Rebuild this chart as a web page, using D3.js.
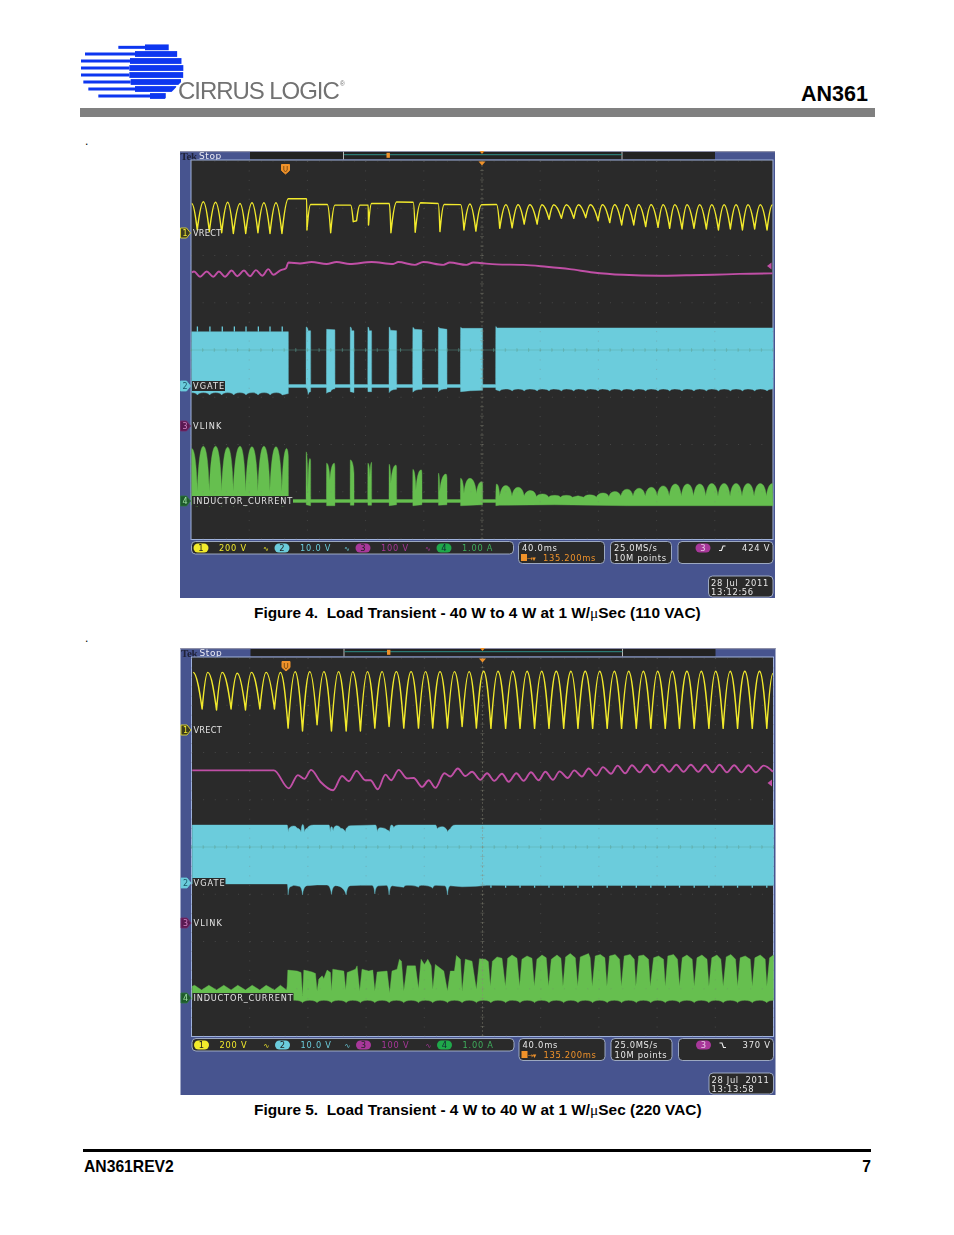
<!DOCTYPE html>
<html><head><meta charset="utf-8">
<script src="https://cdn.jsdelivr.net/npm/d3@7"></script>
<style>html,body{margin:0;padding:0;background:#fff}svg{display:block}</style>
</head><body><svg id="page" width="954" height="1235" xmlns="http://www.w3.org/2000/svg"></svg>
<script>
// ---- Readings: [time in ms across the 400 ms screen, level in channel units] ----
const yellow4 = [[.5,125],[4.3,13],[8.5,132],[12.6,6],[16.9,130],[21.1,1],[25.2,130],[29.1,-2],[33.7,125],[37.6,-2],[41.9,128],[46,1],[50.1,128],[54.3,-2],[58.4,128],[62.5,-2],[66.9,145],[79.5,145],[79.7,13],[82.2,121],[93.7,121],[96,1],[98.9,118],[109.7,118],[111.5,48],[113.8,52],[116.1,118],[121.8,118],[122,34],[124.1,125],[136.3,125],[137.4,1],[141.3,131],[152.7,130],[154.1,3],[157.8,128],[169.9,125],[171.1,6],[174,121],[185.3,120],[187.6,13],[191.7,123],[195.8,8],[199.7,120],[210,121],[212.2,20],[216.4,120],[220.7,22],[224.8,120],[229,38],[232.9,120],[237.9,38],[241.3,120],[246.1,58],[249.3,120],[254.6,62],[258,120],[263.1,62],[266.3,120],[271.3,65],[274.5,120],[279.8,52],[282.8,120],[287.8,44],[291.2,120],[296,34],[299.5,120],[304.3,34],[307.7,120],[312.5,27],[316.2,120],[321,24],[324.5,120],[329,20],[332.5,120],[337.5,17],[340.9,120],[345.7,20],[349.6,120],[354.2,17],[357.9,120],[362.5,13],[366.4,120],[370.7,17],[374.6,120],[379,13],[382.8,120],[387.4,17],[391.3,120],[395.9,13],[399.6,120]];
const magenta4 = [[.5,325],[2.1,327],[6.2,316],[10.8,327],[15.3,316],[19.2,327],[23.4,316],[27.9,329],[31.8,317],[36.4,329],[40.5,317],[44.6,330],[49,318],[53.1,332],[56.6,320],[61.1,329],[65.3,334],[66.9,346],[74.9,344],[82.9,347],[93.2,343],[100.1,347],[109.2,343],[124.1,347],[139,343],[142.4,347],[153.9,341],[159.6,347],[173.4,341],[177.9,346],[189.4,341],[194,346],[198.5,345],[210,342],[228.3,341],[244.3,337],[260.3,332],[276.4,325],[297,320],[322.2,318],[340.5,319],[358.8,320],[377.1,322],[399.6,323]];
const cyan4Top = [[.5,11.5],[66.9,11.5],[67,.3],[79.1,.3],[79.2,12.5],[80.5,11.7],[82.2,11.7],[82.3,.3],[93.1,.3],[93.2,12],[98.9,11.9],[99,.3],[109.4,.3],[109.5,12.5],[110.5,11.7],[112,11.7],[112.1,.3],[121.5,.3],[121.6,12.5],[122.5,11.7],[124.1,11.7],[124.2,.3],[136.1,.3],[136.2,12.5],[137,11.8],[141.3,11.7],[141.4,.3],[152.4,.3],[152.5,12.4],[153.5,12],[158.7,11.9],[158.8,.3],[170,.3],[170.1,12.5],[171,12.2],[175.9,12],[176,.3],[185.2,.3],[185.3,12.4],[186.5,12.2],[200.4,12.2],[200.5,.3],[209.4,.3],[209.5,12.6],[210.5,12.3],[400,12.3]];
const cyan4Bottom = [[.5,-1.4],[4.4,-1.9],[8.6,-1.4],[12.8,-1.9],[17,-1.4],[21.1,-1.9],[25.2,-1.4],[29.4,-1.9],[33.6,-1.4],[37.8,-1.9],[42,-1.4],[46.1,-1.9],[50.2,-1.4],[54.4,-1.9],[58.6,-1.4],[62.7,-1.9],[66.9,-1.6],[67,-.3],[79.1,-.3],[79.2,-.5],[80.5,-1.8],[82.2,-1.2],[82.3,-.3],[93.1,-.3],[93.2,-1.55],[96,-1.2],[98.9,-.6],[99,-.3],[109.4,-.3],[109.5,-1.2],[112,-1.4],[112.1,-.3],[121.5,-.3],[121.6,-1.2],[124.1,-1.2],[124.2,-.3],[136.1,-.3],[136.2,-1.4],[141.3,-.7],[141.4,-.3],[152.4,-.3],[152.5,-1.3],[158.7,-.7],[158.8,-.3],[170,-.3],[170.1,-1.2],[175.9,-.6],[176,-.3],[185.2,-.3],[185.3,-1.2],[192,-1],[200.4,-.9],[200.5,-.3],[209.4,-.3],[209.5,-.8],[212.2,-1.05],[216.4,-.63],[220.7,-1.05],[224.8,-.63],[229,-1.05],[232.9,-.63],[237.9,-1.05],[241.3,-.63],[246.1,-1.05],[249.3,-.63],[254.6,-1.05],[258,-.63],[263.1,-1.05],[266.3,-.63],[271.3,-1.05],[274.5,-.63],[279.8,-1.05],[282.8,-.63],[287.8,-1.05],[291.2,-.63],[296,-1.05],[299.5,-.63],[304.3,-1.05],[307.7,-.63],[312.5,-1.05],[316.2,-.63],[321,-1.05],[324.5,-.63],[329,-1.05],[332.5,-.63],[337.5,-1.05],[340.9,-.63],[345.7,-1.05],[349.6,-.63],[354.2,-1.05],[357.9,-.63],[362.5,-1.05],[366.4,-.63],[370.7,-1.05],[374.6,-.63],[379,-1.05],[382.8,-.63],[387.4,-1.05],[391.3,-.63],[395.9,-1.05],[400,-.63]];
const cyan4Spikes = [[4.4,12.6],[13,12.6],[21.5,12.6],[29.8,12.6],[37.8,12.6],[46.3,12.6],[54.3,12.6],[62.7,12.6]];
const green4Top = [[.5,1.11],[4.4,.2],[8.5,1.16],[12.6,.2],[16.9,1.16],[21.1,.2],[25.2,1.14],[29.1,.2],[33.7,1.16],[37.6,.2],[41.9,1.15],[46,.2],[50.1,1.16],[54.3,.2],[58.4,1.15],[62.5,.2],[65.7,1.11],[66.9,.94],[67,.03],[79.1,.03],[79.2,1.04],[80.4,.16],[81.7,.9],[82.2,.85],[82.3,.03],[93.1,.03],[93.2,.8],[95.5,.44],[98.5,.8],[98.9,.7],[99,.03],[109.4,.03],[109.5,.87],[112,.59],[112.1,.03],[121.5,.03],[121.6,.8],[123,.51],[124.1,.82],[124.2,.03],[136.1,.03],[136.2,.78],[137.4,.37],[140.8,.76],[141.3,.7],[141.4,.03],[152.4,.03],[152.5,.67],[154.6,.23],[158.2,.66],[158.7,.6],[158.8,.03],[170,.03],[170.1,.59],[171,.2],[175.2,.57],[175.9,.5],[176,.03],[185.2,.03],[185.3,.48],[187.6,.16],[191.7,.48],[196.2,.16],[199.7,.41],[200.4,.38],[200.5,.03],[209.4,.03],[209.5,.1],[210,.36],[212.2,.1],[216.4,.33],[220.6,.1],[224.8,.29],[229,.1],[233.3,.22],[237.4,.09],[241.6,.15],[245.8,.08],[250,.12],[254,.08],[258,.12],[262,.08],[266,.11],[270,.08],[274,.13],[278.6,.08],[283.2,.17],[287.2,.09],[291.2,.2],[295.4,.1],[299.7,.25],[303.8,.1],[308,.27],[312.2,.1],[316.4,.29],[320.4,.1],[324.5,.32],[328.7,.1],[332.9,.36],[337,.1],[341.2,.36],[345.4,.1],[349.6,.36],[353.8,.1],[357.9,.37],[362.2,.1],[366.4,.37],[370.5,.1],[374.6,.37],[378.7,.1],[382.8,.37],[387,.1],[391.3,.37],[395.5,.1],[399.6,.37]];
const green4Bottom = [[.5,-.08],[4.4,-.11],[8.5,-.07],[12.6,-.11],[16.9,-.07],[21.1,-.11],[25.2,-.07],[29.1,-.11],[33.7,-.07],[37.6,-.11],[41.9,-.07],[46,-.11],[50.1,-.07],[54.3,-.11],[58.4,-.07],[62.5,-.11],[66.9,-.08],[67,-.03],[79.1,-.03],[79.2,-.08],[82.2,-.1],[82.3,-.03],[93.1,-.03],[93.2,-.1],[98.9,-.1],[99,-.03],[109.4,-.03],[109.5,-.09],[112,-.09],[112.1,-.03],[121.5,-.03],[121.6,-.09],[124.1,-.09],[124.2,-.03],[136.1,-.03],[136.2,-.1],[141.3,-.08],[141.4,-.03],[152.4,-.03],[152.5,-.1],[158.7,-.08],[158.8,-.03],[170,-.03],[170.1,-.09],[175.9,-.08],[176,-.03],[185.2,-.03],[185.3,-.1],[200.4,-.08],[200.5,-.03],[209.4,-.03],[209.5,-.1],[212,-.09],[250,-.08],[300,-.1],[400,-.1]];

const yellow5 = [[1.1,244],[7.3,89],[11.2,244],[17.2,85],[21.1,244],[27.2,89],[31.4,240],[37.1,85],[41.2,244],[47,89],[51.3,244],[57,89],[61.1,244],[66.4,8],[71.2,247],[76.3,-4],[81.3,247],[86.3,22],[91,247],[96.2,-4],[101,247],[106.3,-4],[110.8,247],[116.1,-4],[120.9,247],[126,8],[131,247],[135.8,15],[140.8,247],[145.9,8],[150.9,247],[156,8],[160.8,247],[165.8,8],[170.8,247],[175.9,8],[180.7,247],[186,15],[190.8,247],[195.8,8],[200.8,249],[205.8,7],[210.6,249],[215.9,7],[220.7,249],[225.8,7],[230.6,249],[235.8,7],[240.6,249],[245.7,7],[250.7,249],[255.8,7],[260.8,249],[265.6,7],[270.6,249],[275.7,7],[280.5,249],[285.7,7],[290.6,249],[295.6,7],[300.4,249],[305.7,7],[310.5,249],[315.7,7],[320.3,249],[325.6,7],[330.4,249],[335.4,7],[340.5,249],[345.5,7],[350.3,249],[355.6,7],[360.2,249],[365.4,7],[370.2,249],[375.3,7],[380.3,249],[385.4,7],[390.4,249],[395.4,7],[399.6,239]];
const magenta5 = [[.5,323],[56.6,323],[66.9,285],[73.1,313],[77.6,305],[82.2,324],[88.6,299],[97.3,281],[103.5,311],[108.1,300],[113.4,322],[119.5,302],[123,302],[128,283],[133.3,314],[137.2,302],[142.4,324],[148.2,306],[152.7,307],[158.5,288],[163,302],[167.6,286],[173.8,317],[177.9,310],[183,327],[188.2,311],[192.8,320],[198.5,303],[203.1,317],[208.1,301],[213.4,316],[218,299],[223.2,317],[228.3,301],[233.3,319],[238.6,302],[243.2,320],[248.4,303],[253,321],[258.5,307],[263.1,323],[268.3,310],[272.9,327],[278.2,312],[282.8,330],[288.3,316],[292.8,333],[298.1,317],[302.7,334],[308,319],[313,335],[318,319],[323.3,335],[328.3,320],[333.2,335],[338.2,320],[343.2,335],[348.3,320],[353.1,335],[358.1,319],[362.9,335],[368,319],[373,334],[378,319],[382.8,334],[387.9,319],[393.2,333],[399.6,320]];
const cyan5Top = [[.5,12.27],[65.7,12.27],[66.4,10.72],[67.6,11.7],[70.3,12.06],[72.6,11.57],[75.3,10.72],[76.5,12.4],[77.6,10.72],[79.5,11.57],[84,12.27],[94.4,12.27],[95.3,10.72],[96.2,11.92],[97.3,11],[99.6,12.13],[102.4,11.57],[105.8,10.72],[107,11.7],[109.2,12.13],[126.4,12.27],[127.6,10.86],[129.8,11.7],[134.4,11.2],[136.2,10.72],[137.4,12.27],[139,11.7],[142.4,12.27],[167.6,12.27],[168.8,11.43],[172.2,11.92],[176.1,10.72],[177.9,11.43],[181.4,12.27],[400,12.27]];
const cyan5Bottom = [[.5,-.2],[65.7,-.2],[66.4,-2.5],[68,-.8],[70.3,-.5],[74,-.7],[76.3,-2.5],[79.5,-.56],[86.3,-.4],[93,-.42],[96.2,-2.4],[99,-.56],[106.3,-2.5],[109.2,-.56],[116.1,-.5],[124,-.5],[126,-2.3],[128.5,-.6],[134,-.5],[135.8,-2.5],[138,-.6],[145.9,-.9],[148,-.5],[156,-.9],[158,-.5],[165.8,-1.1],[168,-.5],[174,-.6],[175.9,-2.5],[178,-.6],[186,-.8],[195.8,-.7],[203,-.5],[400,-.55]];
const cyan5Spikes = [[205.8,-1],[215.9,-1],[225.8,-1],[235.8,-1],[245.7,-1],[255.8,-1],[265.6,-1],[275.7,-1],[285.7,-1],[295.6,-1],[305.7,-1],[315.7,-1],[325.6,-1],[335.4,-1],[345.5,-1],[355.6,-1],[365.4,-1],[375.3,-1],[385.4,-1],[395.4,-1]];
const green5Top = [[.5,.25],[2.1,.27],[6.9,.17],[11.9,.27],[17.2,.17],[22.2,.27],[27.2,.17],[31.8,.27],[37.1,.17],[41.7,.27],[46.9,.17],[51.3,.27],[57,.17],[61.1,.27],[65.3,.17],[65.7,.25],[66.2,.59],[72.6,.57],[75.3,.54],[76.3,.04],[77.2,.59],[82.9,.55],[85.2,.52],[86.3,.15],[87.5,.4],[89.8,.47],[90.9,.41],[93.2,.59],[95.5,.54],[96.2,.15],[97.1,.61],[104.7,.57],[106,.17],[107,.54],[112.7,.61],[113.8,.68],[115.6,.15],[117.2,.61],[121.8,.57],[124.6,.59],[126,.15],[127.6,.55],[134.4,.57],[136.2,.11],[137.8,.57],[141.3,.61],[142.9,.82],[144.3,.78],[145.9,.15],[148.2,.68],[153.9,.68],[156,.2],[157.8,.82],[160.1,.71],[162.4,.82],[164.7,.68],[165.8,.18],[167.6,.71],[173.4,.57],[175.9,.15],[177.9,.57],[180.7,.57],[182.1,.9],[184.8,.82],[186,.15],[188.2,.82],[192.8,.78],[195.8,.18],[197.9,.83],[202,.82],[204,.77],[205.4,.25],[206.8,.78],[210,.87],[213.4,.84],[215.7,.25],[217.3,.84],[220.3,.91],[223.7,.84],[225.5,.25],[227.1,.82],[230.6,.89],[234,.84],[235.6,.25],[237.4,.82],[240.9,.91],[243.8,.85],[245.4,.25],[247.3,.82],[251.2,.91],[253.9,.84],[255.3,.25],[257.1,.87],[260.3,.94],[263.8,.85],[265.4,.25],[267.2,.87],[272.9,.94],[274,.85],[275.4,.25],[277.5,.89],[281,.92],[284.1,.85],[285.5,.25],[287.3,.89],[291.2,.92],[294.2,.82],[295.4,.25],[297.4,.89],[301.5,.92],[304.3,.82],[305.4,.25],[307.3,.89],[310.7,.91],[314.1,.82],[315.3,.25],[317.6,.85],[321,.89],[324.4,.82],[325.6,.25],[327.4,.89],[331.3,.92],[334,.82],[335.4,.25],[337.3,.85],[340.5,.91],[344.1,.82],[345.5,.25],[347.4,.85],[350.8,.91],[354.3,.82],[355.6,.25],[357.6,.85],[361.1,.91],[363.8,.82],[365.4,.25],[367.5,.87],[370.7,.92],[373.9,.82],[375.3,.25],[377.1,.85],[380.6,.89],[384,.82],[385.4,.25],[387.2,.85],[390.9,.91],[394.3,.82],[395.4,.25],[397.3,.85],[400,.91]];
const green5Bottom = [[.5,-.03],[65.7,-.03],[66.2,-.05],[71.2,-.05],[76.3,-.1],[81.3,-.05],[86.3,-.1],[91,-.05],[96.2,-.1],[101,-.05],[106.3,-.1],[110.8,-.05],[116.1,-.1],[120.9,-.05],[126,-.1],[131,-.05],[135.8,-.1],[140.8,-.05],[145.9,-.1],[150.9,-.05],[156,-.1],[160.8,-.05],[165.8,-.1],[170.8,-.05],[175.9,-.1],[180.7,-.05],[186,-.1],[190.8,-.05],[195.8,-.1],[200.8,-.05],[205.8,-.1],[210.6,-.05],[215.9,-.1],[220.7,-.05],[225.8,-.1],[230.6,-.05],[235.8,-.1],[240.6,-.05],[245.7,-.1],[250.7,-.05],[255.8,-.1],[260.8,-.05],[265.6,-.1],[270.6,-.05],[275.7,-.1],[280.5,-.05],[285.7,-.1],[290.6,-.05],[295.6,-.1],[300.4,-.05],[305.7,-.1],[310.5,-.05],[315.7,-.1],[320.3,-.05],[325.6,-.1],[330.4,-.05],[335.4,-.1],[340.5,-.05],[345.5,-.1],[350.3,-.05],[355.6,-.1],[360.2,-.05],[365.4,-.1],[370.2,-.05],[375.3,-.1],[380.3,-.05],[385.4,-.1],[390.4,-.05],[395.4,-.1],[400,-.05]];

const channelNames = ['VRECT','VGATE','VLINK','INDUCTOR_CURRENT'];
const channelScales = ['200 V','10.0 V','100 V','1.00 A'];
const timeLabels = ['40.0ms','135.200ms'];
const sampleLabels = ['25.0MS/s','10M points'];
const trigLevels = ['424 V','370 V'];
const trigTimes = [['28 Jul  2011','13:12:56'],['28 Jul  2011','13:13:58']];
const captions = [['Figure 4.  Load Transient - 40 W to 4 W at 1 W/','Sec (110 VAC)'],['Figure 5.  Load Transient - 4 W to 40 W at 1 W/','Sec (220 VAC)']];
const logoBands = [[52,145,225],[72,45,195],[93,33,180],[114,33,178],[135,33,178],[156,40,182],[177,55,195],[198,85,240]];

// ---- Styles ----
const COL = {y:'#f2ea2c',m:'#c04fa6',c:'#6bccdc',g:'#66bf4f',bg:'#2a2a2a',panel:'#47548f',org:'#f0922a',line:'#9fb2dc',chip:'#2a2a2a'};
const svg = d3.select('#page');
const scopeFont = '"DejaVu Sans",sans-serif';

// Curve between read extremes: a sets how long it stays on the crest, b how sharp the cusp is.
function makeCurve(a,b,k){
  return function(ctx){
    let p=null;
    return {
      lineStart(){p=null},
      lineEnd(){},
      areaStart(){},areaEnd(){},
      point(x,y){
        x=+x;y=+y;
        if(!p){ctx.moveTo(x,y)}
        else{
          const dx=x-p[0],dy=y-p[1];
          if(Math.abs(dy)<1.5||dx===0) ctx.lineTo(x,y);
          else if(dy>0) ctx.bezierCurveTo(p[0]+dx*a,p[1],x-dx*b,p[1]+dy*k,x,y);
          else ctx.bezierCurveTo(p[0]+dx*b,p[1]+dy*(1-k),x-dx*a,y,x,y);
        }
        p=[x,y];
      }
    };
  };
}
const cuspCurve = makeCurve(.55,.12,.45);
const waveCurve = makeCurve(.42,.22,.62);

// ---- Scales shared by both screens ----
const xT = d3.scaleLinear().domain([0,400]).range([191,773]);
const yDiv = d3.scaleLinear().domain([0,8]).range([161,539]);
const DIV = yDiv(1)-yDiv(0);
const chY = {
  y:d3.scaleLinear().domain([0,200]).range([233,233-DIV]),
  c:d3.scaleLinear().domain([0,10]).range([386,386-DIV]),
  m:d3.scaleLinear().domain([0,100]).range([426,426-DIV]),
  g:d3.scaleLinear().domain([0,1]).range([501,501-DIV])
};

function text(g,x,y,s,o={}){
  const t=g.append('text').attr('x',x).attr('y',y).text(s)
   .attr('font-family',o.font||scopeFont).attr('font-size',o.size||8.2)
   .attr('fill',o.fill||'#e8e8e8').attr('letter-spacing',o.ls===undefined?.75:o.ls)
   .attr('text-anchor',o.anchor||'start').attr('font-weight',o.weight||'normal');
  t.style('white-space','pre');
  if(o.len) t.attr('textLength',o.len).attr('lengthAdjust','spacing');
  return t;
}

function trace(g,pts,ch,color,w,curve){
  const line=d3.line().x(d=>xT(d[0])).y(d=>chY[ch](d[1])).curve(curve);
  g.append('path').attr('d',line(pts)).attr('fill','none').attr('stroke',color)
   .attr('stroke-width',w).attr('stroke-linejoin','round');
}
function envelope(g,top,bot,ch,color,curveTop){
  const l1=d3.line().x(d=>xT(d[0])).y(d=>chY[ch](d[1])).curve(curveTop);
  const l2=d3.line().x(d=>xT(d[0])).y(d=>chY[ch](d[1])).curve(cuspCurve);
  const back=bot.slice().reverse();
  g.append('path').attr('d',l1(top)+'L'+l2(back).slice(1)+'Z').attr('fill',color)
   .attr('stroke',color).attr('stroke-width',.4);
}
function spikes(g,list,base,ch,color){
  g.selectAll(null).data(list).join('line')
   .attr('x1',d=>xT(d[0])).attr('x2',d=>xT(d[0]))
   .attr('y1',chY[ch](base)).attr('y2',d=>chY[ch](d[1]))
   .attr('stroke',color).attr('stroke-width',1.3);
}
function trigFlag(g,x,y){
  g.append('path').attr('d',`M${x-4},${y-4.5}H${x+4}V${y+1.5}L${x},${y+5}L${x-4},${y+1.5}Z`).attr('fill',COL.org).attr('stroke',COL.org).attr('stroke-linejoin','round');
  g.append('path').attr('d',`M${x-1.7},${y-3}V${y+1}L${x},${y+3}L${x+1.7},${y+1}V${y-3}`).attr('fill','none').attr('stroke','#7a4a10').attr('stroke-width',.9);
}
function chip(g,x,y,w,h,fill,s,col){
  g.append('rect').attr('x',x-w/2).attr('y',y-h/2).attr('width',w).attr('height',h).attr('rx',h/2).attr('fill',fill);
  text(g,x,y+3,s,{fill:col||'#222',anchor:'middle',ls:0,size:8.4});
}
function box(g,x,y,w,h){
  g.append('rect').attr('x',x).attr('y',y).attr('width',w).attr('height',h).attr('rx',4)
   .attr('fill',COL.chip).attr('stroke','#a8b4cc').attr('stroke-width',.9);
}
function marker(g,yPos,fill,stroke,s,col){
  g.append('path').attr('d',`M180.5,${yPos-5}H186.5L190.5,${yPos}L186.5,${yPos+5}H180.5Z`).attr('fill',fill).attr('stroke',stroke).attr('stroke-width',.8);
  text(g,185,yPos+3,s,{anchor:'middle',ls:0,size:8,fill:col});
}

function drawScope(off,sx,S){
  const g=svg.append('g').attr('transform',`translate(${sx},${off})`).style('filter','blur(0.3px)');
  g.append('rect').attr('x',180).attr('y',151).attr('width',595).attr('height',447).attr('fill',COL.panel);
  g.append('rect').attr('x',180).attr('y',151).attr('width',595).attr('height',1.2).attr('fill','#8d8fa8');
  g.append('rect').attr('x',250).attr('y',152).attr('width',465).attr('height',7.5).attr('fill','#222');
  g.append('line').attr('x1',343.5).attr('x2',343.5).attr('y1',151.5).attr('y2',159.5).attr('stroke','#b8b8b8');
  g.append('line').attr('x1',622).attr('x2',622).attr('y1',151.5).attr('y2',159.5).attr('stroke','#b8b8b8');
  g.append('line').attr('x1',344).attr('x2',622).attr('y1',154.7).attr('y2',154.7).attr('stroke','#2f9a92').attr('stroke-width',.9);
  g.append('rect').attr('x',386.5).attr('y',152.8).attr('width',3.4).attr('height',5).attr('fill',COL.org);
  g.append('path').attr('d','M479.5,151H484.5L482,154Z').attr('fill',COL.org);
  text(g,180.5,159.5,'Tek',{fill:'#20233a',ls:-.3,size:11,weight:'bold',font:'"Liberation Serif",serif'});
  text(g,199,158.6,'Stop',{fill:'#ececf4',ls:.6,size:9});
  g.append('rect').attr('x',191).attr('y',160).attr('width',582).attr('height',379.5).attr('fill',COL.bg).attr('stroke',COL.line).attr('stroke-width',1);

  envelope(g,S.cTop,S.cBot,'c',COL.c,cuspCurve);
  spikes(g,S.cSp,S.cBase,'c',COL.c);
  envelope(g,S.gTop,S.gBot,'g',COL.g,S.gCurve);
  trace(g,S.mag,'m',COL.m,1.9,d3.curveMonotoneX);
  trace(g,S.yel,'y',COL.y,1.45,waveCurve);

  // graticule drawn over the traces
  const gr=g.append('g').attr('fill','none');
  const divsX=d3.range(0,401,40), divsY=d3.range(0,9,1);
  gr.selectAll(null).data(divsX).join('line').attr('x1',d=>xT(d)).attr('x2',d=>xT(d)).attr('y1',161).attr('y2',539)
    .attr('stroke','#7a7a7a').attr('stroke-opacity',.4).attr('stroke-width',.9).attr('stroke-dasharray',`1 ${(DIV/5-1).toFixed(2)}`);
  gr.selectAll(null).data(divsY).join('line').attr('x1',191).attr('x2',773).attr('y1',d=>yDiv(d)).attr('y2',d=>yDiv(d))
    .attr('stroke','#7a7a7a').attr('stroke-opacity',.4).attr('stroke-width',.9).attr('stroke-dasharray',`1 ${((xT(40)-xT(0))/5-1).toFixed(2)}`);
  gr.append('line').attr('x1',191).attr('x2',773).attr('y1',yDiv(4)).attr('y2',yDiv(4)).attr('stroke','#5aa79a').attr('stroke-opacity',.5).attr('stroke-width',.8);
  gr.selectAll(null).data(d3.range(0,401,8)).join('line').attr('x1',d=>xT(d)).attr('x2',d=>xT(d)).attr('y1',yDiv(4)-2).attr('y2',yDiv(4)+2).attr('stroke','#5aa79a').attr('stroke-opacity',.6).attr('stroke-width',.8);
  gr.append('line').attr('x1',xT(200)).attr('x2',xT(200)).attr('y1',161).attr('y2',539).attr('stroke','#8a8a78').attr('stroke-opacity',.4).attr('stroke-width',1).attr('stroke-dasharray','2 2');
  gr.selectAll(null).data(d3.range(0,8.01,.2)).join('line').attr('x1',xT(200)-2).attr('x2',xT(200)+2).attr('y1',d=>yDiv(d)).attr('y2',d=>yDiv(d)).attr('stroke','#8a8a78').attr('stroke-opacity',.4).attr('stroke-width',.8);

  g.append('path').attr('d','M478.5,161.5H485.5L482,165.5Z').attr('fill',COL.org);
  trigFlag(g,285.5,169);
  g.append('path').attr('d',`M771.5,${S.trigY-3.5}L767,${S.trigY}L771.5,${S.trigY+3.5}Z`).attr('fill',COL.m);

  marker(g,233,'#3a3a20',COL.y,'1',COL.y);
  marker(g,386,COL.c,COL.c,'2','#1a5a68');
  marker(g,426,'#5a1a52','#7a2a6a','3','#d080c0');
  marker(g,501,'#1f5a2c','#2f7a40','4','#9ee0a0');
  const lab=[[233,29],[386,32],[426,29],[501,100]];
  channelNames.forEach((s,i)=>{
    const [yp,w]=lab[i];
    if(i===1||i===3) g.append('rect').attr('x',192).attr('y',yp-5).attr('width',w+1).attr('height',10).attr('fill',COL.bg);
    text(g,193,yp+3,s,{fill:'#e4e4e4',size:8.2,len:w});
  });

  box(g,191.5,541.5,322,12.5);
  const sx0=[201,282,363,444], col=[COL.y,COL.c,'#a8389a','#1fa84a'], tcol=[COL.y,COL.c,'#a8389a','#3fae5c'];
  channelScales.forEach((s,i)=>{
    chip(g,sx0[i],548,15,9,col[i],String(i+1),i===3?'#123':'#222');
    text(g,sx0[i]+18,551,s,{fill:tcol[i],size:8.2,ls:.8});
    if(i<3) text(g,sx0[i]+62,550.5,'∿',{fill:tcol[i],size:7,ls:0});
  });
  box(g,518.5,541.5,86,22);
  text(g,522,550.5,timeLabels[0],{size:8.4,ls:.75});
  g.append('rect').attr('x',521).attr('y',554).attr('width',6).attr('height',7).attr('fill',COL.org);
  text(g,527,561,'→▾',{fill:COL.org,size:7,ls:-.5});
  text(g,543,561,timeLabels[1],{fill:COL.org,size:8.4,ls:.65});
  box(g,610.5,541.5,61,22);
  text(g,614,550.5,sampleLabels[0],{size:8.4,ls:.65});
  text(g,614,561,sampleLabels[1],{size:8.4,ls:.65});
  box(g,678,541.5,95,22);
  chip(g,703,548,15,9,'#a8389a','3','#e8c8e4');
  g.append('path').attr('d',S.slope).attr('fill','none').attr('stroke','#eee').attr('stroke-width',1.1);
  text(g,742,550.8,S.level,{size:8.4,ls:.8});
  box(g,708.5,576,64.5,21);
  text(g,711,585.5,S.stamp[0],{size:8.4,ls:.65});
  text(g,711,595,S.stamp[1],{size:8.4,ls:.65});
}

drawScope(0,0,{yel:yellow4,mag:magenta4,cTop:cyan4Top,cBot:cyan4Bottom,cSp:cyan4Spikes,cBase:11.5,gTop:green4Top,gBot:green4Bottom,gCurve:cuspCurve,trigY:266,slope:'M719,550.5H721.5L723,546H725.5',level:trigLevels[0],stamp:trigTimes[0]});
drawScope(497,.5,{yel:yellow5,mag:magenta5,cTop:cyan5Top,cBot:cyan5Bottom,cSp:cyan5Spikes,cBase:-.5,gTop:green5Top,gBot:green5Bottom,gCurve:d3.curveLinear,trigY:286,slope:'M719,546H721.5L723,550.5H725.5',level:trigLevels[1],stamp:trigTimes[1]});

// ---- Page furniture ----
const pg=svg.append('g');
const arial='"Liberation Sans",Arial,sans-serif';
function capt(y,c,x0){
  const t=pg.append('text').attr('x',x0).attr('y',y).attr('font-family',arial).attr('font-weight','bold').attr('font-size',15.4).attr('fill','#000').style('white-space','pre');
  t.append('tspan').text(c[0]);
  t.append('tspan').attr('font-family','"Liberation Serif",serif').attr('font-weight','normal').text('μ');
  t.append('tspan').text(c[1]);
}
capt(618,captions[0],254);
capt(1115,captions[1],254);
pg.append('rect').attr('x',80).attr('y',108).attr('width',795).attr('height',9).attr('fill','#808080');
text(pg,868,101,'AN361',{font:arial,size:21.5,weight:'bold',fill:'#000',anchor:'end',ls:0});
text(pg,85,145,'.',{font:arial,size:12,fill:'#000',ls:0});
text(pg,85,642,'.',{font:arial,size:12,fill:'#000',ls:0});
pg.append('rect').attr('x',83).attr('y',1149).attr('width',788).attr('height',3).attr('fill','#000');
text(pg,84,1172,'AN361REV2',{font:arial,size:15.7,weight:'bold',fill:'#000',ls:0});
text(pg,871,1172,'7',{font:arial,size:15.7,weight:'bold',fill:'#000',anchor:'end',ls:0});

// logo
const lg=svg.append('g').style('filter','blur(0.35px)');
const zx=d3.scaleLinear().domain([0,300]).range([70,170]);
const cx=155,cyy=71,rx=28.5,ry=27;
const BLUE='#0d36f0';
logoBands.forEach(([z,a,b])=>{
  const y=30+z/3;
  const halfW=rx*Math.sqrt(Math.max(0,1-Math.pow((y-cyy)/ry,2)));
  lg.append('rect').attr('x',zx(a)).attr('y',y-1.5).attr('width',Math.max(0,zx(b)-zx(a))).attr('height',3).attr('fill',BLUE);
  lg.append('rect').attr('x',zx(b)).attr('y',y-2.9).attr('width',Math.max(0,cx+halfW-zx(b))).attr('height',5.8).attr('fill',BLUE);
});
lg.append('path').attr('d','M184,79 L162,102 H186Z').attr('fill','#fff');
text(lg,178,98.5,'CIRRUS LOGIC',{font:arial,size:24,fill:'#727272',ls:-1.05});
text(lg,340,86,'®',{font:arial,size:6.5,fill:'#727272',ls:0});
</script></body></html>
